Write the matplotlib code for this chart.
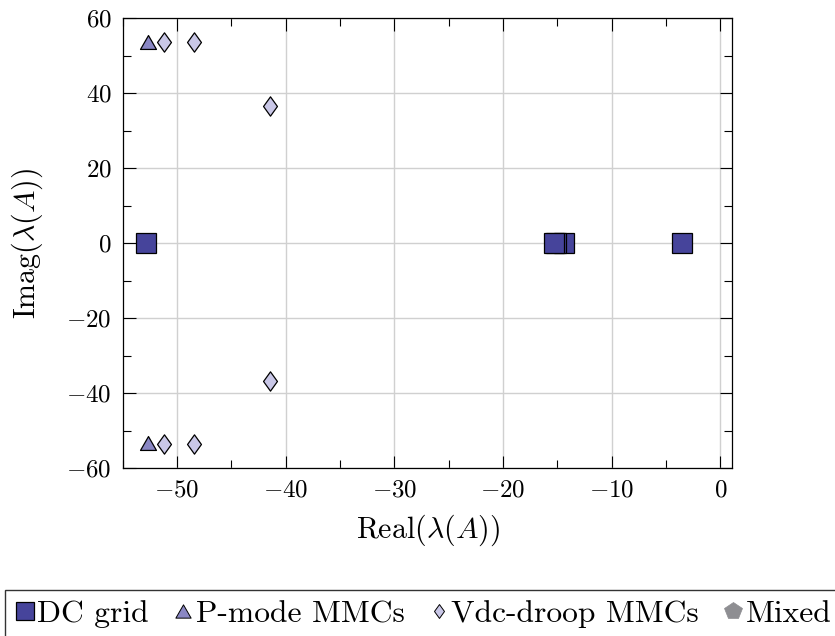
import matplotlib
matplotlib.use("Agg")
import matplotlib.pyplot as plt
from matplotlib.path import Path
from matplotlib.lines import Line2D
from matplotlib.ticker import MultipleLocator, FuncFormatter

plt.rcParams['mathtext.fontset'] = 'cm'
plt.rcParams['font.family'] = ['cmr10', 'DejaVu Serif']
plt.rcParams['axes.unicode_minus'] = False

# Data
dc_re = [-52.9, -14.35, -15.1, -15.35, -3.5]
dc_im = [0, 0, 0, 0, 0]
p_re = [-52.7, -52.7]
p_im = [53.7, -53.2]
v_re = [-51.2, -48.4, -41.4, -41.4, -51.2, -48.4]
v_im = [53.7, 53.7, 36.7, -36.7, -53.6, -53.6]
labels = ['DC grid', 'P-mode MMCs', 'Vdc-droop MMCs', 'Mixed']

c_dc = '#46449b'
c_p = '#8a87c4'
c_v = '#c9c7e7'
c_mix = '#8e8e92'

tri = Path([(0, 1), (-1.15, -1), (1.15, -1), (0, 1)], closed=True)
dia = Path([(0, 1), (0.72, 0), (0, -1), (-0.72, 0), (0, 1)], closed=True)

fig = plt.figure(figsize=(8.35, 6.36), dpi=100)
ax = fig.add_axes([122.7/835, 1-468/636, (732.3-122.7)/835, (468-18.3)/636])

ax.plot(dc_re, dc_im, ls='none', marker='s', ms=13.9, mfc=c_dc, mec='black', mew=0.9, zorder=3)
ax.plot(p_re, p_im, ls='none', marker=tri, ms=11.5, mfc=c_p, mec='black', mew=0.9, zorder=3)
ax.plot(v_re, v_im, ls='none', marker=dia, ms=13.9, mfc=c_v, mec='black', mew=0.9, zorder=3)

ax.set_xlim(-55, 1.1)
ax.set_ylim(-60, 60)
ax.xaxis.set_major_locator(MultipleLocator(10))
ax.xaxis.set_minor_locator(MultipleLocator(5))
ax.yaxis.set_major_locator(MultipleLocator(20))
ax.yaxis.set_minor_locator(MultipleLocator(10))
fmt = FuncFormatter(lambda v, p: r'$%d$' % round(v))
ax.xaxis.set_major_formatter(fmt)
ax.yaxis.set_major_formatter(fmt)
ax.grid(True, which='major', color='#d0d0d0', lw=1.0)
ax.set_axisbelow(True)
ax.tick_params(which='both', direction='in', top=True, right=True, width=0.8, labelsize=18)
ax.tick_params(which='major', length=9, pad=8)
ax.tick_params(which='minor', length=6)
for s in ax.spines.values():
    s.set_linewidth(0.9)

ax.set_xlabel(r'$\mathrm{Real}(\lambda(A))$', fontsize=21.5, labelpad=8)
ax.set_ylabel(r'$\mathrm{Imag}(\lambda(A))$', fontsize=21.5, labelpad=15)

handles = [
    Line2D([], [], ls='none', marker='s', ms=13.5, mfc=c_dc, mec='black', mew=0.9),
    Line2D([], [], ls='none', marker=tri, ms=11, mfc=c_p, mec='black', mew=0.7),
    Line2D([], [], ls='none', marker=dia, ms=10, mfc=c_v, mec='black', mew=0.7),
    Line2D([], [], ls='none', marker='p', ms=13, mfc=c_mix, mec=c_mix, mew=0.5),
]
leg = fig.legend(handles, labels, loc='upper left', bbox_to_anchor=(5/835, 1-589.7/636),
                 ncol=4, frameon=True, fancybox=False, edgecolor='black', fontsize=22.7,
                 handlelength=0.6, handletextpad=0.1, columnspacing=0.78,
                 borderaxespad=0, borderpad=0.325)
leg.get_frame().set_linewidth(1.0)

fig.savefig('out.png', dpi=100)
